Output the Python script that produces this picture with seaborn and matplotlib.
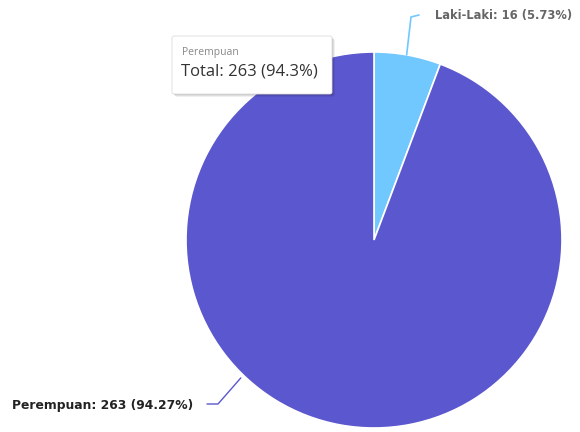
import numpy as np
import matplotlib
matplotlib.use("Agg")
import matplotlib.pyplot as plt
from matplotlib.patches import FancyBboxPatch
import seaborn as sns

# data
labels = ["Laki-Laki", "Perempuan"]
counts = [16, 263]
colors = ["#70c8ff", "#5b57cf"]
label_angles = [80, -134]  # where the leader lines start (deg)

sns.set_theme(style="white")
plt.rcParams['font.family'] = ['Open Sans', 'DejaVu Sans']

W, H = 580, 432
fig = plt.figure(figsize=(W / 100, H / 100), dpi=100)
cx, cy, r = 374, 240, 188
ax = fig.add_axes([(cx - r) / W, (H - cy - r) / H, 2 * r / W, 2 * r / H])
wedges, _ = ax.pie(counts, colors=colors, startangle=90, counterclock=False,
                   radius=1.0, wedgeprops=dict(edgecolor="white", linewidth=1.2))
ax.set_xlim(-1, 1)
ax.set_ylim(-1, 1)
ax.set_aspect("equal")
ax.axis("off")

total = sum(counts)
pcts = [c / total * 100 for c in counts]

# leader lines + labels
lx0 = np.cos(np.radians(label_angles[0]))
ly0 = np.sin(np.radians(label_angles[0]))
fig.add_artist(plt.Line2D([(cx + lx0 * r) / W, 411 / W, 419 / W],
                          [1 - (cy - ly0 * r) / H, 1 - 17 / H, 1 - 15 / H],
                          transform=fig.transFigure, color=colors[0], lw=1.2))
fig.text(435 / W, 1 - 15 / H, f"{labels[0]}: {counts[0]} ({pcts[0]:.2f}%)",
         fontsize=8.3, fontweight="bold", color="#666666", va="center", ha="left",
         family="DejaVu Sans")

lx1 = np.cos(np.radians(label_angles[1])) * 1.02
ly1 = np.sin(np.radians(label_angles[1])) * 1.02
fig.add_artist(plt.Line2D([(cx + lx1 * r) / W, 218 / W, 207 / W],
                          [1 - (cy - ly1 * r) / H, 1 - 404 / H, 1 - 404 / H],
                          transform=fig.transFigure, color=colors[1], lw=1.0))
fig.text(12 / W, 1 - 405 / H, f"{labels[1]}: {counts[1]} ({pcts[1]:.2f}%)",
         fontsize=8.9, fontweight="bold", color="#222222", va="center", ha="left",
         family="DejaVu Sans")

# tooltip
for off, a in [(3, 0.06), (2, 0.08), (1, 0.1)]:
    sh = FancyBboxPatch(((172 + off) / W, 1 - (94 + off) / H), 160 / W, 58 / H,
                        boxstyle="round,pad=0,rounding_size=0.004",
                        transform=fig.transFigure, facecolor="black", alpha=a,
                        edgecolor="none")
    fig.add_artist(sh)
tip = FancyBboxPatch((172 / W, 1 - 94 / H), 160 / W, 58 / H,
                     boxstyle="round,pad=0,rounding_size=0.004",
                     transform=fig.transFigure, facecolor="white",
                     edgecolor="#dddddd", lw=0.6)
fig.add_artist(tip)
fig.text(182 / W, 1 - 52 / H, labels[1], fontsize=7.5, color="#888888",
         va="center", ha="left")
fig.text(181 / W, 1 - 72 / H, f"Total: {counts[1]} ({pcts[1]:.1f}%)",
         fontsize=12, color="#333333", va="center", ha="left")

fig.savefig("out.png", dpi=100)
